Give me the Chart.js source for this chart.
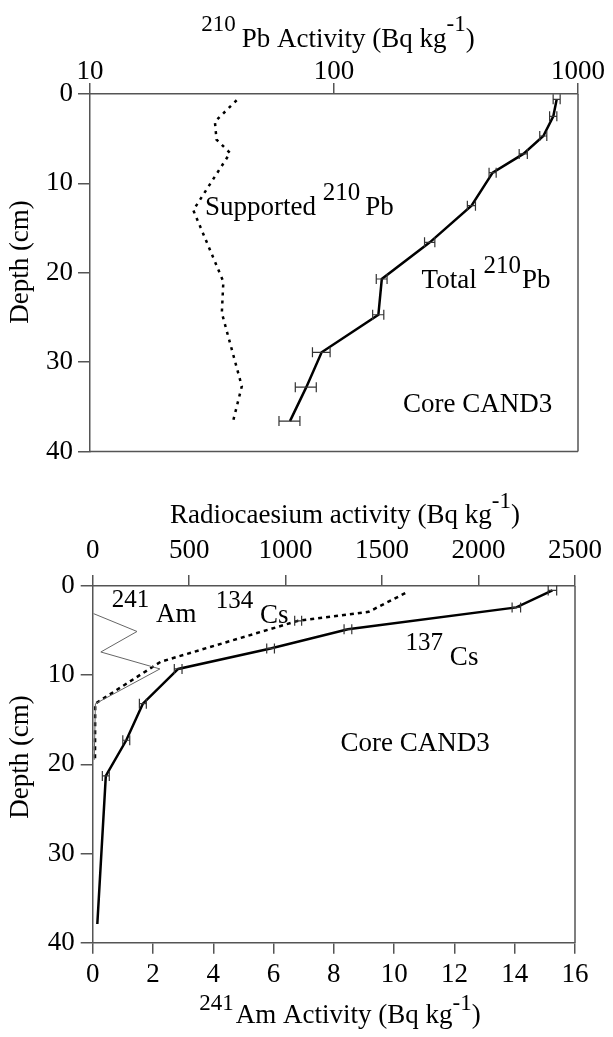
<!DOCTYPE html>
<html><head><meta charset="utf-8">
<script src="https://cdn.jsdelivr.net/npm/chart.js@4.4.0/dist/chart.umd.min.js"></script>
<style>
html,body{margin:0;padding:0;background:#fff;}
#wrap{position:relative;width:613px;height:1037px;background:#fff;}
canvas{position:absolute;left:0;}
#c1{top:0;} #c2{top:470px;}
</style></head><body>
<div id="wrap"><canvas id="c1" width="613" height="470"></canvas><canvas id="c2" width="613" height="567"></canvas></div>
<script>
// ---- Top panel: 210Pb ----
const pbDepth      = [0.6, 2.5, 4.7, 6.7, 8.8, 12.5, 16.6, 20.7, 24.7, 28.9, 32.8, 36.6];
const pbTotal      = [818, 792, 721, 597, 447, 366, 247, 157, 152, 89, 77, 66];
const pbTotalErr   = [27, 27, 24, 23, 15, 14, 12, 8, 8, 7.4, 7.6, 6.5];
const pbSupDepth   = [0.7, 3.1, 5.1, 6.6, 13.0, 21.0, 24.5, 32.7, 36.6];
const pbSupported  = [39.9, 32.5, 33.0, 37.5, 26.5, 35.2, 34.7, 41.9, 38.6];
const pbTicks      = [10, 100, 1000];
const depthTicks   = [0, 10, 20, 30, 40];

// ---- Bottom panel: radiocaesium & 241Am ----
const cs137Depth = [0.5, 2.4, 4.85, 7.0, 9.3, 13.2, 17.3, 21.3, 37.9];
const cs137      = [2383, 2196, 1323, 922, 443, 260, 174, 68, 24];
const cs137Err   = [22, 22, 20, 20, 20, 18, 18, 18, null];
const cs134Depth = [0.8, 2.9, 3.9, 8.5, 13.2, 19.5];
const cs134      = [1620, 1430, 1065, 352, 13, 12];
const cs134Err   = [null, null, 18, null, null, null];
const am241Depth = [3.1, 5.1, 7.4, 9.3, 13.2, 19.5];
const am241      = [0.03, 1.47, 0.27, 2.23, 0.09, 0.05];
const csTicks    = [0, 500, 1000, 1500, 2000, 2500];
const amTicks    = [0, 2, 4, 6, 8, 10, 12, 14, 16];

const FONT = "'Liberation Serif', 'Times New Roman', serif";
const AX = '#555';
const FS = 27;

function drawRuns(ctx, runs, x, y, o) {
  const widths = runs.map(r => { ctx.font = (r.sup ? o.supSize : o.size) + 'px ' + FONT; return ctx.measureText(r.t).width + (r.gap || 0); });
  const total = widths.reduce((a, b) => a + b, 0);
  let cx = o.align === 'center' ? x - total / 2 : x;
  ctx.save();
  ctx.textAlign = 'left'; ctx.textBaseline = 'alphabetic'; ctx.fillStyle = '#000';
  runs.forEach((r, i) => {
    ctx.font = (r.sup ? o.supSize : o.size) + 'px ' + FONT;
    ctx.fillText(r.t, cx, y - (r.sup ? o.raise : 0));
    cx += widths[i];
  });
  ctx.restore();
}

const decor = {
  id: 'decor',
  afterDatasetsDraw(chart) {
    const ctx = chart.ctx;
    const cfg = chart.options.plugins.decor;
    const a = chart.chartArea;
    // error bars
    chart.data.datasets.forEach((ds, i) => {
      if (!ds.errors) return;
      const meta = chart.getDatasetMeta(i);
      const xs = chart.scales[meta.xAxisID], ys = chart.scales[meta.yAxisID];
      ctx.save();
      ctx.strokeStyle = '#333'; ctx.lineWidth = 1.2;
      ds.data.forEach((p, j) => {
        const e = ds.errors[j];
        if (e == null) return;
        const x0 = xs.getPixelForValue(p.x - e), x1 = xs.getPixelForValue(p.x + e);
        const y = ys.getPixelForValue(p.y);
        ctx.beginPath();
        ctx.moveTo(x0, y); ctx.lineTo(x1, y);
        ctx.moveTo(x0, y - 5); ctx.lineTo(x0, y + 5);
        ctx.moveTo(x1, y - 5); ctx.lineTo(x1, y + 5);
        ctx.stroke();
      });
      ctx.restore();
    });
    // frame sides
    ctx.save();
    ctx.strokeStyle = AX; ctx.lineWidth = 1.5;
    ctx.beginPath();
    ctx.moveTo(a.right, a.top); ctx.lineTo(a.right, a.bottom);
    if (cfg.bottomLine) { ctx.moveTo(a.left, a.bottom); ctx.lineTo(a.right, a.bottom); }
    ctx.stroke();
    ctx.restore();
    // titles
    cfg.titles.forEach(t => drawRuns(ctx, t.runs, t.x, t.y, t));
    // y title
    ctx.save();
    ctx.translate(cfg.yTitle.x, cfg.yTitle.y);
    ctx.rotate(-Math.PI / 2);
    ctx.font = FS + 'px ' + FONT; ctx.fillStyle = '#000';
    ctx.textAlign = 'center'; ctx.textBaseline = 'alphabetic';
    ctx.fillText(cfg.yTitle.text, 0, 0);
    ctx.restore();
    // in-plot labels (anchored in data units)
    cfg.labels.forEach(l => {
      const x = chart.scales[l.xAxis].getPixelForValue(l.xv);
      const y = chart.scales.y.getPixelForValue(l.yv);
      drawRuns(ctx, l.runs, x, y, {size: FS, supSize: 25, raise: 15, align: 'left'});
    });
  }
};

function axisOpts(extra) {
  return Object.assign({
    grid: {drawOnChartArea: false, drawTicks: true, tickLength: 11, color: AX, lineWidth: 1.5},
    border: {display: true, color: AX, width: 1.5},
    ticks: {color: '#000', font: {family: FONT, size: FS, lineHeight: 1}, maxRotation: 0, autoSkip: false, callback: v => String(v)}
  }, extra);
}

// ---------- Top chart ----------
const topX = axisOpts({type: 'logarithmic', position: 'top', min: 10, max: 1000,
  afterBuildTicks: s => { s.ticks = pbTicks.map(v => ({value: v})); },
  afterFit: s => { s.height = 94; }});
topX.ticks = Object.assign({}, topX.ticks, {padding: -2});
const topY = axisOpts({type: 'linear', reverse: true, min: 0, max: 40,
  afterBuildTicks: s => { s.ticks = depthTicks.map(v => ({value: v})); },
  afterFit: s => { s.width = 90; }});
topY.grid = Object.assign({}, topY.grid, {tickLength: 12});
topY.ticks = Object.assign({}, topY.ticks, {padding: 5});

new Chart(document.getElementById('c1'), {
  type: 'scatter',
  data: {datasets: [
    {label: 'Total 210Pb', data: pbDepth.map((d, i) => ({x: pbTotal[i], y: d})), errors: pbTotalErr,
     showLine: true, borderColor: '#000', borderWidth: 2.5, pointRadius: 0, tension: 0},
    {label: 'Supported 210Pb', data: pbSupDepth.map((d, i) => ({x: pbSupported[i], y: d})),
     showLine: true, borderColor: '#000', borderWidth: 2.5, borderDash: [3, 5], pointRadius: 0, tension: 0}
  ]},
  options: {
    responsive: false, animation: false, devicePixelRatio: 1,
    layout: {padding: {left: 0, top: 0, right: 35, bottom: 18}},
    plugins: {legend: {display: false}, tooltip: {enabled: false},
      decor: {
        bottomLine: true,
        titles: [{runs: [{t: '210', sup: true, gap: 6}, {t: 'Pb Activity (Bq kg'}, {t: '-1', sup: true}, {t: ')'}],
                  x: 338, y: 47, size: FS, supSize: 23, raise: 16, align: 'center'}],
        yTitle: {text: 'Depth (cm)', x: 28, y: 262},
        labels: [
          {xAxis: 'x', xv: 29.6, yv: 13.5, runs: [{t: 'Supported '}, {t: '210', sup: true, gap: 5}, {t: 'Pb'}]},
          {xAxis: 'x', xv: 228.6, yv: 21.7, runs: [{t: 'Total '}, {t: '210', sup: true, gap: 1}, {t: 'Pb'}]},
          {xAxis: 'x', xv: 191.9, yv: 35.6, runs: [{t: 'Core CAND3'}]}
        ]
      }},
    scales: {x: topX, y: topY}
  },
  plugins: [decor]
});

// ---------- Bottom chart ----------
const csX = axisOpts({type: 'linear', position: 'top', min: 0, max: 2500,
  afterBuildTicks: s => { s.ticks = csTicks.map(v => ({value: v})); },
  afterFit: s => { s.height = 116; }});
csX.ticks = Object.assign({}, csX.ticks, {padding: 11});
const amX = axisOpts({type: 'linear', position: 'bottom', min: 0, max: 16,
  afterBuildTicks: s => { s.ticks = amTicks.map(v => ({value: v})); },
  afterFit: s => { s.height = 94.3; }});
amX.ticks = Object.assign({}, amX.ticks, {padding: 8});
const botY = axisOpts({type: 'linear', reverse: true, min: 0, max: 40,
  afterBuildTicks: s => { s.ticks = depthTicks.map(v => ({value: v})); },
  afterFit: s => { s.width = 92.7; }});
botY.grid = Object.assign({}, botY.grid, {tickLength: 12});
botY.ticks = Object.assign({}, botY.ticks, {padding: 6});

new Chart(document.getElementById('c2'), {
  type: 'scatter',
  data: {datasets: [
    {label: '241Am', xAxisID: 'xAm', yAxisID: 'y', data: am241Depth.map((d, i) => ({x: am241[i], y: d})),
     showLine: true, borderColor: '#666', borderWidth: 1, pointRadius: 0, tension: 0},
    {label: '134Cs', xAxisID: 'xCs', yAxisID: 'y', data: cs134Depth.map((d, i) => ({x: cs134[i], y: d})), errors: cs134Err,
     showLine: true, borderColor: '#000', borderWidth: 2.5, borderDash: [4, 4], pointRadius: 0, tension: 0},
    {label: '137Cs', xAxisID: 'xCs', yAxisID: 'y', data: cs137Depth.map((d, i) => ({x: cs137[i], y: d})), errors: cs137Err,
     showLine: true, borderColor: '#000', borderWidth: 2.5, pointRadius: 0, tension: 0}
  ]},
  options: {
    responsive: false, animation: false, devicePixelRatio: 1,
    layout: {padding: {left: 0, top: 0, right: 33, bottom: 0}},
    plugins: {legend: {display: false}, tooltip: {enabled: false},
      decor: {
        bottomLine: false,
        titles: [
          {runs: [{t: 'Radiocaesium activity (Bq kg'}, {t: '-1', sup: true}, {t: ')'}],
           x: 345, y: 53, size: FS, supSize: 23, raise: 15, align: 'center'},
          {runs: [{t: '241', sup: true, gap: 2}, {t: 'Am Activity (Bq kg'}, {t: '-1', sup: true}, {t: ')'}],
           x: 340, y: 553, size: FS, supSize: 23, raise: 13, align: 'center'}
        ],
        yTitle: {text: 'Depth (cm)', x: 28, y: 287},
        labels: [
          {xAxis: 'xCs', xv: 99, yv: 4.04, runs: [{t: '241', sup: true}, {t: ' Am'}]},
          {xAxis: 'xCs', xv: 638, yv: 4.15, runs: [{t: '134', sup: true}, {t: ' Cs'}]},
          {xAxis: 'xCs', xv: 1622, yv: 8.86, runs: [{t: '137', sup: true}, {t: ' Cs'}]},
          {xAxis: 'xCs', xv: 1284, yv: 18.5, runs: [{t: 'Core CAND3'}]}
        ]
      }},
    scales: {xCs: csX, xAm: amX, y: botY}
  },
  plugins: [decor]
});
</script>
</body></html>
